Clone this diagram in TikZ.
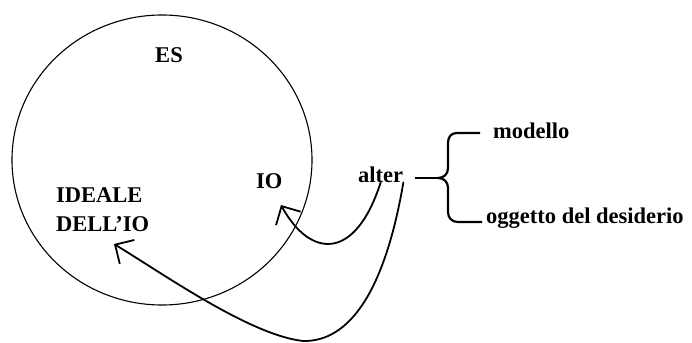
\documentclass[tikz,border=0pt]{standalone}
\usepackage{fontspec}
\setmainfont{Liberation Serif}
\usetikzlibrary{arrows.meta}
\begin{document}
\begin{tikzpicture}[x=1pt,y=-1pt,
  lbl/.style={font=\fontsize{22.5}{29}\selectfont\bfseries, inner sep=0pt},
  link/.style={line width=1.8pt, line cap=round,
    -{Straight Barb[length=14pt,width=28pt,line width=1.8pt]}},
  brace/.style={line width=2.2pt, line join=round},
]
\useasboundingbox (0,0) rectangle (692,342);

% the ES
\draw[line width=1.1pt] (162,160) ellipse [x radius=150, y radius=145];

% labels
\node[lbl, anchor=base] (es) at (169,63) {ES};
\node[lbl, anchor=base west] (io) at (256,188) {IO};
\node[lbl, anchor=north west, align=left] (ideale) at (56,187) {IDEALE\\DELL’IO};
\node[lbl, anchor=base west] (alter) at (358,182) {alter};
\node[lbl, anchor=base west] (modello) at (493,138) {modello};
\node[lbl, anchor=base west] (oggetto) at (486,223) {oggetto del desiderio};

% arrow end points next to the targets
\coordinate (ioTip) at (281,205);
\coordinate (idealeTip) at (114,244);
\coordinate (braceTip) at (438,178);
\coordinate (stem) at (415,178);

% curly brace splitting alter
\draw[brace] (stem) -- (braceTip);
\draw[brace] (480,133) -- (457,133)
  .. controls (451,133) and (448,137) .. (448,143) -- (448,168)
  .. controls (448,174) and (444,178) .. (braceTip)
  .. controls (444,178) and (448,182) .. (448,188) -- (448,212)
  .. controls (448,218) and (452,222) .. (458,222) -- (482,222);

% alter -> IO
\draw[link] (alter.south) .. controls (355,262) and (310,258) .. (ioTip);
% alter -> ideale dell'io
\draw[link] (alter.south east) .. controls (385,290) and (350,342) .. (303,341)
  .. controls (250,335) and (165,275) .. (idealeTip);
\end{tikzpicture}
\end{document}
